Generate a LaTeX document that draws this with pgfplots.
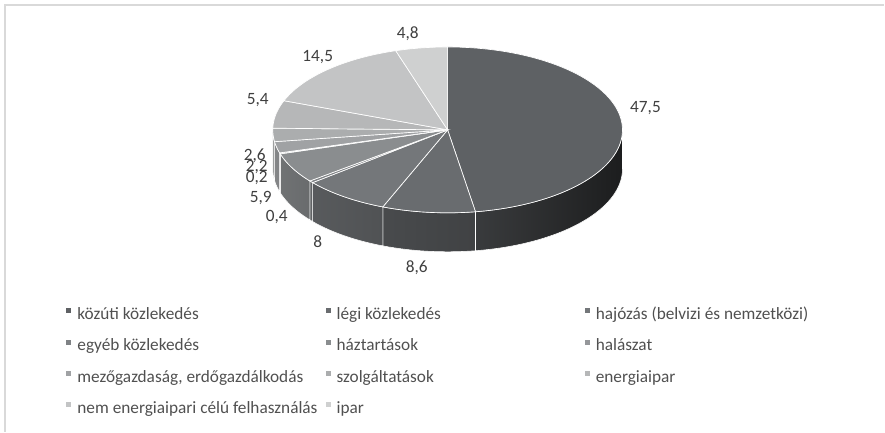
\documentclass[border=0pt]{standalone}
\usepackage{pgfplots}
\pgfplotsset{compat=1.18}
\usepackage{fontspec}
\setmainfont{Carlito}
\definecolor{c1}{HTML}{5E6164}
\definecolor{c2}{HTML}{696C6F}
\definecolor{c3}{HTML}{74777A}
\definecolor{c4}{HTML}{7F8285}
\definecolor{c5}{HTML}{8A8D8F}
\definecolor{c6}{HTML}{95979A}
\definecolor{c7}{HTML}{A0A2A4}
\definecolor{c8}{HTML}{ABADAE}
\definecolor{c9}{HTML}{B6B7B8}
\definecolor{c10}{HTML}{C3C4C5}
\definecolor{c11}{HTML}{CFD0D0}
\definecolor{framegray}{HTML}{D9D9D9}
\definecolor{labelgray}{HTML}{404040}
\definecolor{legendgray}{HTML}{505050}
\newcommand\lgE[1]{\makebox[186.3bp][l]{\rule[-9.3bp]{0pt}{24bp}#1}}
\newcommand\fsz{\fontsize{13}{15}\selectfont}
\def\vals{47.5,8.6,8,0.4,5.9,0.2,2.2,2.6,5.4,14.5,4.8}
\begin{document}
\begin{tikzpicture}
\begin{axis}[
  scale only axis, width=663.75bp, height=324bp,
  xmin=0, xmax=885, ymin=0, ymax=432,
  hide axis, clip=false, no markers,
  legend entries={\lgE{közúti közlekedés},\lgE{légi közlekedés},\lgE{hajózás (belvizi és nemzetközi)},\lgE{egyéb közlekedés},\lgE{háztartások},\lgE{halászat},\lgE{mezőgazdaság, erdőgazdálkodás},\lgE{szolgáltatások},\lgE{energiaipar},\lgE{nem energiaipari célú felhasználás},\lgE{ipar}},
  legend cell align=left,
  legend columns=3,
  legend style={at={(axis cs:66.5,131.6)}, anchor=north west, draw=none, fill=none,
    inner sep=0pt, outer sep=0pt, font=\fsz, text=legendgray,
    nodes={inner sep=0pt}, row sep=7.2bp, column sep=0pt,
    /tikz/every odd column/.append style={column sep=4.5bp}},
  legend image code/.code={\fill[#1, draw=none] (0bp,-1.9bp) rectangle (3.75bp,1.9bp);},
]
\pgfmathsetmacro\k{360/100.1}
% side faces
\gdef\cum{0}
\foreach \v [count=\i] in \vals {
  \pgfmathsetmacro\sA{90-\k*\cum}
  \pgfmathsetmacro\nc{\cum+\v}
  \pgfmathsetmacro\sB{90-\k*\nc}
  \xdef\cum{\nc}
  \pgfmathsetmacro\vA{max(\sB,-180)}
  \pgfmathsetmacro\vB{min(\sA,0)}
  \pgfmathtruncatemacro\vis{\vA<\vB ? 1 : 0}
  \ifnum\vis=1
    \pgfmathtruncatemacro\pL{100*(0.3+0.55*(max(abs(\vA),0.01)/180)^0.7)}
    \pgfmathtruncatemacro\pR{100*(0.3+0.55*(max(abs(\vB),0.01)/180)^0.7)}
    \pgfmathsetmacro\xB{448+175*cos(\vB)}
    \pgfmathsetmacro\yB{302+83*sin(\vB)-39}
    \edef\temp{\noexpand\addplot[forget plot, draw=white, line width=0.4pt, left color=c\i!\pL!black, right color=c\i!\pR!black, domain=\vA:\vB, samples=60] ({448+175*cos(x)},{302+83*sin(x)}) -- (axis cs:\xB,\yB) arc[start angle=\vB, end angle=\vA, x radius=131.25bp, y radius=62.25bp] -- cycle;}
    \temp
  \fi
}
% top faces
\gdef\cum{0}
\foreach \v [count=\i] in \vals {
  \pgfmathsetmacro\sA{90-\k*\cum}
  \pgfmathsetmacro\nc{\cum+\v}
  \pgfmathsetmacro\sB{90-\k*\nc}
  \xdef\cum{\nc}
  \edef\temp{\noexpand\addplot[fill=c\i, draw=white, line width=0.5pt, domain=\sB:\sA, samples=90] ({448+175*cos(x)},{302+83*sin(x)}) -- (axis cs:448,302) -- cycle;}
  \temp
}
% data labels
\node[font=\fsz, text=labelgray, inner sep=0pt] at (axis cs:646,324) {47,5};
\node[font=\fsz, text=labelgray, inner sep=0pt] at (axis cs:417,164) {8,6};
\node[font=\fsz, text=labelgray, inner sep=0pt] at (axis cs:318,190) {8};
\node[font=\fsz, text=labelgray, inner sep=0pt] at (axis cs:277,215) {0,4};
\node[font=\fsz, text=labelgray, inner sep=0pt] at (axis cs:261,234) {5,9};
\node[font=\fsz, text=labelgray, inner sep=0pt] at (axis cs:257,254) {0,2};
\node[font=\fsz, text=labelgray, inner sep=0pt] at (axis cs:257,265) {2,2};
\node[font=\fsz, text=labelgray, inner sep=0pt] at (axis cs:255,276) {2,6};
\node[font=\fsz, text=labelgray, inner sep=0pt] at (axis cs:258,332) {5,4};
\node[font=\fsz, text=labelgray, inner sep=0pt] at (axis cs:318,375) {14,5};
\node[font=\fsz, text=labelgray, inner sep=0pt] at (axis cs:408,398) {4,8};
% frame
\draw[framegray, line width=1.1bp] (axis cs:5,0) -- (axis cs:5,427) -- (axis cs:885,427);
\path (axis cs:0,0) rectangle (axis cs:885,432);
\end{axis}
\end{tikzpicture}
\end{document}
